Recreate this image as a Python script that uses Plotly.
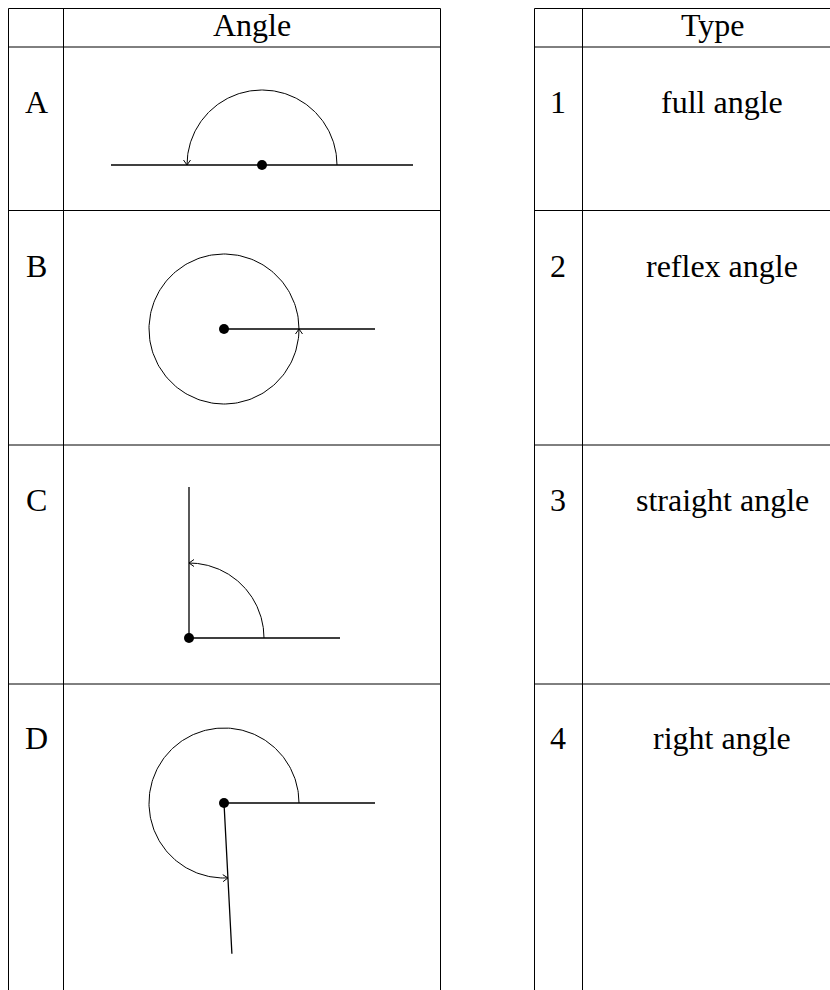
import numpy as np
import plotly.graph_objects as go

# table content
headers = ["Angle", "Type"]
row_labels = ["A", "B", "C", "D"]
angle_degrees = [180, 360, 90, 273]
type_numbers = ["1", "2", "3", "4"]
type_names = ["full angle", "reflex angle", "straight angle", "right angle"]

# page layout (pixels)
W, H = 830, 990
row_y = [8.5, 47, 210.5, 445, 684]
left_x = [8.5, 63.5, 440.5]
right_x = [534.5, 582.5, 830]
vertex_pos = [(262, 165), (224, 329), (189, 638), (224, 803)]
label_base = [112, 276, 510, 748]
ray_len = 151
arc_r = 75

FONT = dict(family="Liberation Serif, Times New Roman, serif", size=32, color="black")
LINE = dict(color="black", width=1)

fig = go.Figure()

# table grid
shapes = []
for y in row_y:
    shapes.append(dict(type="line", x0=left_x[0], x1=left_x[-1], y0=y, y1=y, line=LINE))
    shapes.append(dict(type="line", x0=right_x[0], x1=right_x[-1], y0=y, y1=y, line=LINE))
for x in left_x + right_x[:2]:
    shapes.append(dict(type="line", x0=x, x1=x, y0=row_y[0], y1=H, line=LINE))

# angle drawings
for (vx, vy), deg in zip(vertex_pos, angle_degrees):
    # rays
    t = np.radians(deg)
    fig.add_trace(go.Scatter(x=[vx + ray_len, vx, vx + ray_len * np.cos(t)],
                             y=[vy, vy, vy - ray_len * np.sin(t)],
                             mode="lines", line=dict(color="black", width=1.3),
                             hoverinfo="skip", showlegend=False))
    # arc
    th = np.radians(np.linspace(0, deg, 200))
    fig.add_trace(go.Scatter(x=vx + arc_r * np.cos(th), y=vy - arc_r * np.sin(th),
                             mode="lines", line=dict(color="black", width=1),
                             hoverinfo="skip", showlegend=False))
    # arrow tip
    px, py = vx + arc_r * np.cos(t), vy - arc_r * np.sin(t)
    dx, dy = -np.sin(t), -np.cos(t)
    nx, ny = -dy, dx
    fig.add_trace(go.Scatter(x=[px - 5 * dx + 3.5 * nx, px, px - 5 * dx - 3.5 * nx],
                             y=[py - 5 * dy + 3.5 * ny, py, py - 5 * dy - 3.5 * ny],
                             mode="lines", line=dict(color="black", width=1),
                             hoverinfo="skip", showlegend=False))
    # vertex
    fig.add_trace(go.Scatter(x=[vx], y=[vy], mode="markers",
                             marker=dict(color="black", size=10),
                             hoverinfo="skip", showlegend=False))

# texts
annotations = [
    dict(x=252, y=35, text=headers[0]),
    dict(x=713, y=35, text=headers[1]),
]
for lab, num, name, yb in zip(row_labels, type_numbers, type_names, label_base):
    annotations.append(dict(x=36, y=yb, text=lab))
    annotations.append(dict(x=558, y=yb, text=num))
    annotations.append(dict(x=722, y=yb, text=name))
for a in annotations:
    a["y"] = a["y"] - 10
    a.update(xref="x", yref="y", showarrow=False, font=FONT,
             xanchor="center", yanchor="middle")

fig.update_layout(
    width=W, height=H,
    margin=dict(l=0, r=0, t=0, b=0),
    paper_bgcolor="white", plot_bgcolor="white",
    xaxis=dict(range=[0, W], visible=False, fixedrange=True),
    yaxis=dict(range=[H, 0], visible=False, fixedrange=True),
    shapes=shapes, annotations=annotations,
)

# drop the default page margin so the figure fills the window
fig.write_html("out.html", config={"displayModeBar": False},
               post_script="document.body.style.margin='0';document.body.style.overflow='hidden';")
